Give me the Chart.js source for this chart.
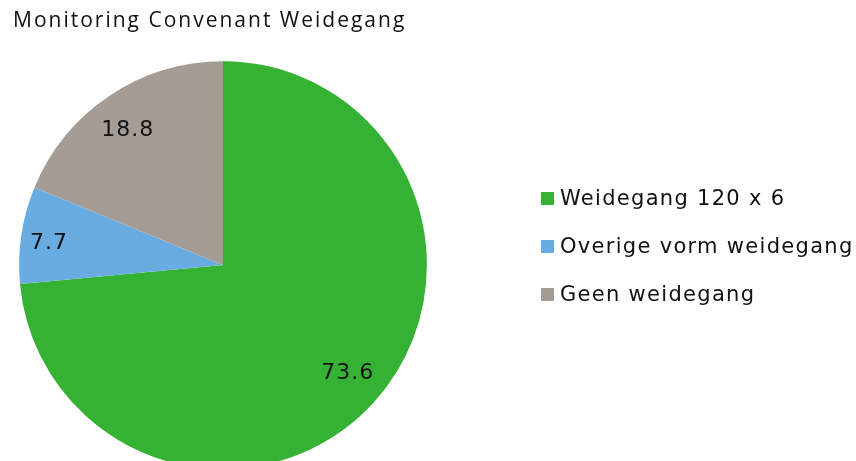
<!DOCTYPE html>
<html>
<head>
<meta charset="utf-8">
<script src="https://cdn.jsdelivr.net/npm/chart.js@4"></script>
<style>
  html, body { margin: 0; padding: 0; background: #fff; overflow: hidden; }
  #wrap { width: 856px; height: 470px; position: relative; }
</style>
</head>
<body>
<div id="wrap"><canvas id="pie-chart"></canvas></div>
<script>
const titleText = "Monitoring Convenant Weidegang";
const categories = ["Weidegang 120 x 6", "Overige vorm weidegang", "Geen weidegang"];
const shares = [73.6, 7.7, 18.8];
const colors = ["#35b234", "#69ace2", "#a59c95"];

const FONT = "DejaVu Sans, Verdana, sans-serif";

// title spacing has to be set before the title box is drawn
const spacing = {
  id: "spacing",
  beforeDraw(chart) {
    chart.ctx.letterSpacing = "2px";
  }
};

// slice values + legend on the right, drawn after the pie
const extras = {
  id: "extras",
  afterDatasetsDraw(chart) {
    const c = chart.ctx;
    const meta = chart.getDatasetMeta(0);
    c.save();
    c.letterSpacing = "1px";
    c.font = "22px " + FONT;
    c.fillStyle = "#111";
    c.textAlign = "center";
    c.textBaseline = "middle";
    meta.data.forEach((arc, i) => {
      const p = arc.getProps(["x", "y", "startAngle", "endAngle", "outerRadius"]);
      const mid = (p.startAngle + p.endAngle) / 2 - 0.025;
      const f = shares[i] < 10 ? 0.86 : 0.81;
      c.fillText(shares[i].toFixed(1), p.x + Math.cos(mid) * p.outerRadius * f, p.y + Math.sin(mid) * p.outerRadius * f);
    });

    // legend
    c.letterSpacing = "1.3px";
    c.font = "21px " + FONT;
    c.textAlign = "left";
    const lx = 541, ly = 199, step = 48;
    categories.forEach((name, i) => {
      c.fillStyle = colors[i];
      c.fillRect(lx, ly + i * step - 7, 13, 13);
      c.fillStyle = "#111";
      c.fillText(name, lx + 19, ly + i * step + 0.5);
    });
    c.restore();
  }
};

new Chart(document.getElementById("pie-chart"), {
  type: "pie",
  data: {
    labels: categories,
    datasets: [{
      data: shares,
      backgroundColor: colors,
      borderWidth: 0
    }]
  },
  options: {
    responsive: true,
    maintainAspectRatio: false,
    animation: false,
    layout: { padding: { left: 13, right: 423, top: 0, bottom: 1 } },
    plugins: {
      legend: { display: false },
      tooltip: { enabled: false },
      title: {
        display: true,
        text: titleText,
        align: "start",
        color: "#111",
        font: { family: "Open Sans, DejaVu Sans, sans-serif", size: 21, weight: "normal" },
        padding: { top: 8, bottom: 28 }
      }
    }
  },
  plugins: [spacing, extras]
});
</script>
</body>
</html>
